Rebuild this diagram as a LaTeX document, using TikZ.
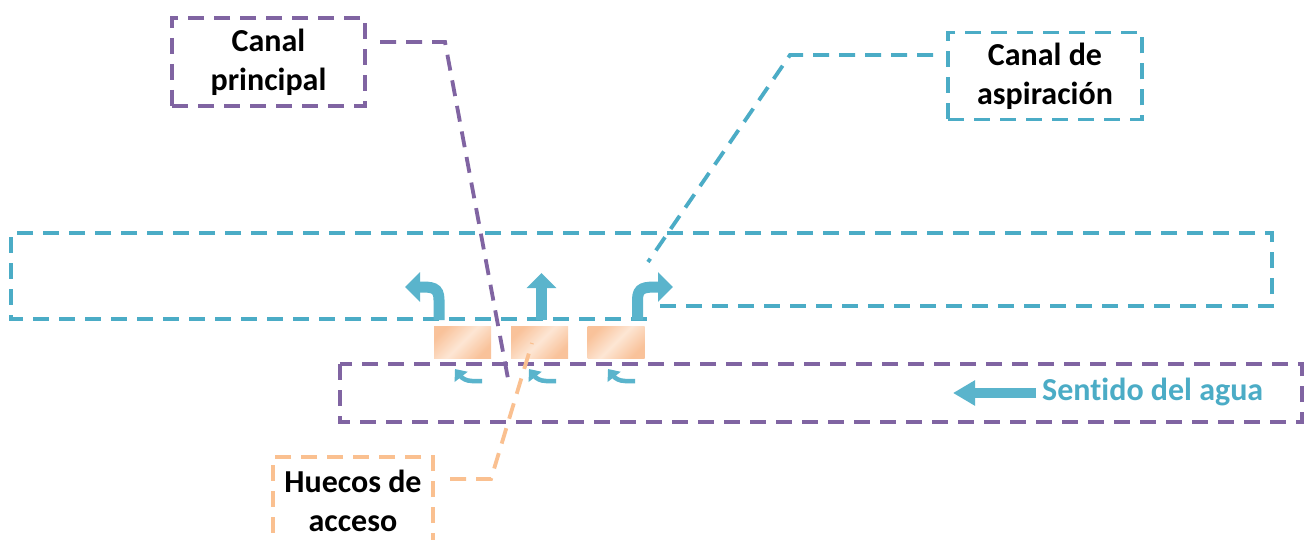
\documentclass[tikz,border=0pt]{standalone}
\usepackage{fontspec}
\setmainfont{Carlito}[Ligatures=NoCommon]
\usetikzlibrary{arrows.meta}
\definecolor{cyanc}{HTML}{4BACC6}
\definecolor{purp}{HTML}{8064A2}
\definecolor{oran}{HTML}{FAC090}
\definecolor{peach}{HTML}{F9C29A}
\definecolor{peachlt}{HTML}{FDE6D4}
\definecolor{arrowc}{HTML}{5AB4CC}
\begin{document}
\begin{tikzpicture}[x=1pt,y=-1pt,
  dsh/.style={line width=3.8pt, dash pattern=on 16pt off 10pt},
  lbl/.style={font=\fontsize{32}{39}\selectfont\bfseries, align=center, inner sep=0pt},
  hole/.style={minimum width=57pt, minimum height=32pt, inner sep=0pt, top color=peach, bottom color=peach, middle color=peachlt, shading angle=45},
  bigarrow/.style={draw=arrowc, line width=11pt, -{Triangle[length=15pt,width=29pt]}},
  smallarrow/.style={draw=arrowc, line width=4.5pt, -{Triangle[length=10pt,width=16pt]}},
]
\clip (0,0) rectangle (1308,540);
\fill[white] (0,0) rectangle (1308,540);

% canals
\draw[cyanc, dsh] (660,306) -- (1272,306) -- (1272,233) -- (11,233) -- (11,319) -- (655,319);
\draw[purp, dsh] (340,364) rectangle (1302,422);

% access holes
\node[hole] (h1) at (462.5,342) {};
\node[hole] (h2) at (539.5,342) {};
\node[hole] (h3) at (616,342) {};

% labels
\node[lbl, draw=purp, dsh, minimum width=193pt, minimum height=88pt] (cp) at (268.5,62) {Canal\\principal};
\node[lbl, draw=cyanc, dsh, minimum width=194pt, minimum height=87pt] (ca) at (1045,76) {Canal de\\aspiración};
\node[lbl, draw=oran, dsh, minimum width=160pt, minimum height=88pt] (hu) at (353,501) {Huecos de\\acceso};
\node[lbl, text=cyanc, anchor=west] (sd) at (1042,392) {Sentido del agua};

% leaders
\coordinate (cpA) at (380,42);
\coordinate (cpB) at (445,42);
\coordinate (cpC) at (509,384);
\draw[purp, dsh] (cpA) -- (cpB) -- (cpC);
\coordinate (caA) at (933,55);
\coordinate (caB) at (790,55);
\coordinate (caC) at (648,262);
\draw[cyanc, dsh] (caA) -- (caB) -- (caC);
\coordinate (huA) at (450,479);
\coordinate (huB) at (491,479);
\coordinate (huC) at (532,343);
\draw[oran, dsh] (huA) -- (huB) -- (huC);

% flow arrows
\coordinate (a1) at (439,320);
\coordinate (a2) at (541.5,320);
\coordinate (a3) at (637.5,320);
\draw[bigarrow] (a1) -- (439,300) .. controls (439,287) and (432,287) .. (405,287);
\draw[bigarrow] (a2) -- (541.5,273);
\draw[bigarrow] (a3) -- (637.5,300) .. controls (637.5,287) and (644.5,287) .. (673,287);

\draw[smallarrow] (482,381) -- (472,381) .. controls (466,381) and (462,378) .. (455,369);
\draw[smallarrow] (556,381) -- (546,381) .. controls (540,381) and (536,378) .. (529,369);
\draw[smallarrow] (635,381) -- (625,381) .. controls (619,381) and (615,378) .. (608,369);

\coordinate (sdA) at (1036,393);
\coordinate (sdB) at (953,393);
\draw[draw=arrowc, line width=10pt, -{Triangle[length=22pt,width=24pt]}] (sdA) -- (sdB);
\end{tikzpicture}
\end{document}
